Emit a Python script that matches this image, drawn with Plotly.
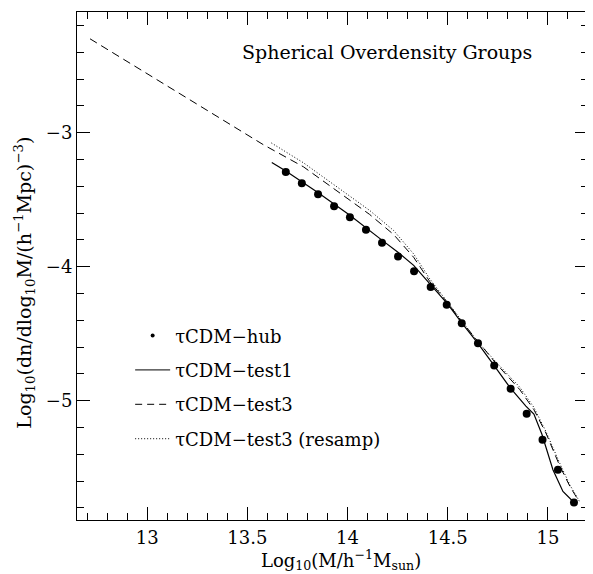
import plotly.graph_objects as go

# tau CDM-hub (points)
hub_x = [13.692, 13.772, 13.853, 13.933, 14.012, 14.092, 14.172, 14.252, 14.332, 14.415,
         14.495, 14.570, 14.651, 14.732, 14.814, 14.894, 14.973, 15.050, 15.130]
hub_y = [-3.293, -3.378, -3.460, -3.550, -3.632, -3.724, -3.821, -3.925, -4.035, -4.151,
         -4.284, -4.423, -4.572, -4.737, -4.910, -5.097, -5.291, -5.515, -5.759]

# tau CDM-test1 (solid)
test1_x = [13.622, 13.69, 13.85, 14.01, 14.17, 14.25, 14.33, 14.41, 14.50, 14.57, 14.65,
           14.73, 14.81, 14.89, 14.93, 14.97, 15.025, 15.075, 15.133]
test1_y = [-3.222, -3.285, -3.445, -3.615, -3.800, -3.890, -3.990, -4.130, -4.280, -4.420, -4.570,
           -4.735, -4.900, -5.040, -5.100, -5.250, -5.515, -5.677, -5.763]

# tau CDM-test3 (dashed)
test3_x = [12.715, 13.0, 13.3, 13.58, 13.78, 13.98, 14.11, 14.23, 14.33, 14.41, 14.50, 14.57,
           14.65, 14.74, 14.86, 14.93, 14.99, 15.06, 15.11, 15.15]
test3_y = [-2.300, -2.560, -2.834, -3.090, -3.255, -3.470, -3.610, -3.760, -3.930, -4.110, -4.270, -4.410,
           -4.560, -4.720, -4.918, -5.067, -5.241, -5.490, -5.640, -5.739]

# tau CDM-test3 (resamp) (dotted)
resamp_x = [13.62, 13.78, 13.98, 14.11, 14.23, 14.33, 14.41, 14.50, 14.57, 14.65, 14.74,
            14.86, 14.93, 14.99, 15.06, 15.11, 15.157]
resamp_y = [-3.077, -3.225, -3.440, -3.580, -3.730, -3.905, -4.090, -4.265, -4.410, -4.560, -4.710,
            -4.900, -5.050, -5.230, -5.470, -5.630, -5.750]

x_tickvals = [13, 13.5, 14, 14.5, 15]
x_ticktext = ["13", "13.5", "14", "14.5", "15"]
y_tickvals = [-5, -4, -3]
y_ticktext = ["\u22125", "\u22124", "\u22123"]

FONT = "DejaVu Serif"

fig = go.Figure()

fig.add_trace(go.Scatter(x=test3_x, y=test3_y, mode="lines",
                         line=dict(color="black", width=1, dash="8px,5px"),
                         showlegend=False))
fig.add_trace(go.Scatter(x=resamp_x, y=resamp_y, mode="lines",
                         line=dict(color="black", width=1, dash="1px,2px"),
                         showlegend=False))
fig.add_trace(go.Scatter(x=test1_x, y=test1_y, mode="lines",
                         line=dict(color="black", width=1.2),
                         showlegend=False))
fig.add_trace(go.Scatter(x=hub_x, y=hub_y, mode="markers",
                         marker=dict(color="black", size=8),
                         showlegend=False))

# legend entries
fig.add_trace(go.Scatter(x=[None], y=[None], mode="markers", name="\u03c4CDM\u2212hub",
                         marker=dict(color="black", size=4), legendgroup="a"))
fig.add_trace(go.Scatter(x=[None], y=[None], mode="lines", name="\u03c4CDM\u2212test1",
                         line=dict(color="black", width=1), legendgroup="b"))
fig.add_trace(go.Scatter(x=[None], y=[None], mode="lines", name="\u03c4CDM\u2212test3",
                         line=dict(color="black", width=1, dash="7px,5px"), legendgroup="c"))
fig.add_trace(go.Scatter(x=[None], y=[None], mode="lines", name="\u03c4CDM\u2212test3 (resamp)",
                         line=dict(color="black", width=1, dash="1px,2px"), legendgroup="d"))

axis_common = dict(showline=True, linecolor="black", linewidth=1, mirror="ticks",
                   ticks="inside", ticklen=13, tickcolor="black", tickwidth=1,
                   showgrid=False, zeroline=False, automargin=False,
                   tickfont=dict(family=FONT, size=18, color="black"))

fig.update_xaxes(range=[12.65, 15.2], tickvals=x_tickvals, ticktext=x_ticktext,
                 ticklabelstandoff=1,
                 minor=dict(dtick=0.1, ticklen=7, ticks="inside", tickcolor="black", showgrid=False),
                 **axis_common)
fig.update_yaxes(range=[-5.89, -2.10], tickvals=y_tickvals, ticktext=y_ticktext,
                 minor=dict(dtick=0.2, tick0=-3, ticklen=7, ticks="inside", tickcolor="black", showgrid=False),
                 **axis_common)

fig.add_annotation(text="Spherical Overdensity Groups", x=0.606, y=0.921, xref="paper", yref="paper",
                   showarrow=False, font=dict(family=FONT, size=19, color="black"),
                   xanchor="center", yanchor="middle")
fig.add_annotation(text="Log<sub>10</sub>(M/h<sup>\u22121</sup>M<sub>sun</sub>)",
                   x=0.517, y=-0.079, xref="paper", yref="paper", showarrow=False,
                   font=dict(family=FONT, size=18, color="black"),
                   xanchor="center", yanchor="middle")
fig.add_annotation(text="Log<sub>10</sub>(dn/dlog<sub>10</sub>M/(h<sup>\u22121</sup>Mpc)<sup>\u22123</sup>)",
                   x=-0.102, y=0.467, xref="paper", yref="paper", showarrow=False, textangle=-90,
                   font=dict(family=FONT, size=19, color="black"),
                   xanchor="center", yanchor="middle")

# the page body has an 8px margin: size the figure so the plot area lands where the reference has it
fig.update_layout(width=585, height=566,
                  margin=dict(l=69, r=5, t=4, b=54),
                  paper_bgcolor="white", plot_bgcolor="white",
                  font=dict(family=FONT, size=18, color="black"),
                  legend=dict(x=0.104, y=0.399, xanchor="left", yanchor="top",
                              bgcolor="rgba(0,0,0,0)", tracegroupgap=8, itemwidth=35,
                              font=dict(family=FONT, size=18, color="black")))

fig.write_html("out.html")
